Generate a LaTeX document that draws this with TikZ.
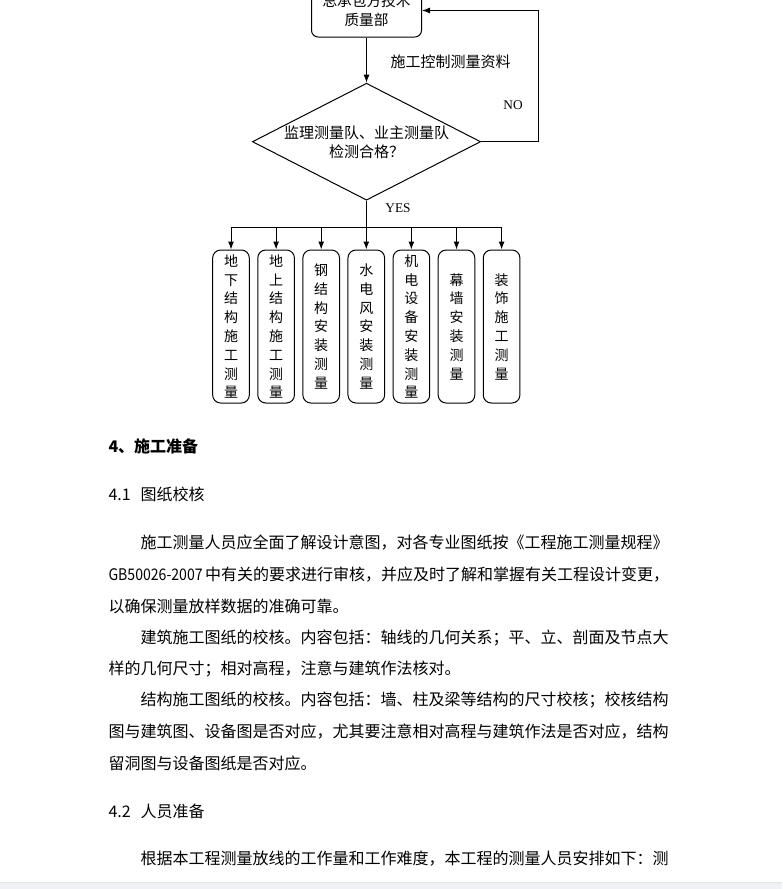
\documentclass[tikz,border=0pt]{standalone}
\usepackage{fontspec}
\setmainfont{Noto Sans CJK SC}
\newfontfamily\latinserif{Liberation Serif}
\usetikzlibrary{shapes.geometric,arrows.meta}
\XeTeXlinebreaklocale "zh"
\XeTeXlinebreakskip=0pt plus 1pt minus 1pt

\definecolor{bandgray}{RGB}{240,241,244}
\definecolor{bandline}{RGB}{226,228,232}

% one justified line of the body text
\newcommand{\indline}[1]{\makebox[391.5pt][s]{#1}}
\newcommand{\fulline}[1]{\makebox[415.5pt][s]{#1}}

\tikzset{
  flowtext/.style={inner sep=0pt, font=\fontsize{11.25}{14.25}\selectfont},
  topbox/.style={draw, rounded corners=5pt, minimum width=82.5pt, minimum height=39.75pt,
    inner sep=0pt, align=center, font=\fontsize{11}{14.25}\selectfont},
  checkbox/.style={draw, diamond, minimum width=171.2pt, minimum height=87.75pt, inner sep=0pt},
  leafbox/.style={draw, rounded corners=6pt, minimum width=27.5pt, minimum height=114.75pt,
    inner sep=0pt, align=center, font=\fontsize{10.5}{14.1}\selectfont},
  yesno/.style={inner sep=0pt, font=\latinserif\fontsize{10}{10}\selectfont},
  bodytext/.style={inner sep=0pt, anchor=west, font=\fontsize{12}{12}\selectfont}
}

\begin{document}
\begin{tikzpicture}[x=0.75pt,y=-0.75pt,line width=0.75pt,>={Latex[length=6pt,width=4.5pt]}]
  \useasboundingbox (0,0) rectangle (782,889);
  \clip (0,0) rectangle (782,889);

  % flow chart
  \node[topbox] (qa) at (366.5,10.5) {总承包方技术\\质量部};
  \node[checkbox] (chk) at (366.5,141.7) {};
  \node[flowtext, align=center] (chktext) at (366.5,142.5) {监理测量队、业主测量队\\检测合格？};
  \draw[->] (qa.south) -- (chk.north);
  \draw[->] (chk.east) -- ++(57,0) |- (qa.east);
  \node[flowtext, anchor=west] (data) at (390,62) {施工控制测量资料};
  \node[yesno] (no) at (513,105) {NO};
  \node[yesno] (yes) at (398,208) {YES};

  \coordinate (bus) at (366.5,227);
  \foreach \i/\t in {0/地\\下\\结\\构\\施\\工\\测\\量, 1/地\\上\\结\\构\\施\\工\\测\\量,
      2/钢\\结\\构\\安\\装\\测\\量, 3/水\\电\\风\\安\\装\\测\\量,
      4/机\\电\\设\\备\\安\\装\\测\\量, 5/幕\\墙\\安\\装\\测\\量, 6/装\\饰\\施\\工\\测\\量}{
    \node[leafbox] (b\i) at ({231+45.1*\i},326.5) {\t};
  }
  \draw[line width=1.3pt] (chk.south) -- (bus);
  \draw (b0.north |- bus) -- (b6.north |- bus);
  \foreach \i in {0,...,6}{ \draw[->] (b\i.north |- bus) -- (b\i.north); }

  % text below the chart
  \node[bodytext, font=\fontsize{12}{12}\selectfont\bfseries] (sec4) at (108,446) {4、施工准备};
  \node[bodytext] (sec41) at (108,494) {\makebox[24pt][l]{4.1}图纸校核};
  \node[bodytext] (p1a) at (140,543) {\indline{施工测量人员应全面了解设计意图，对各专业图纸按《工程施工测量规程》}};
  \node[bodytext] (p1b) at (108,575) {\fulline{\scalebox{0.88}[1]{GB50026-2007} 中有关的要求进行审核，并应及时了解和掌握有关工程设计变更，}};
  \node[bodytext] (p1c) at (108,606) {以确保测量放样数据的准确可靠。};
  \node[bodytext] (p2a) at (140,638) {\indline{建筑施工图纸的校核。内容包括：轴线的几何关系；平、立、剖面及节点大}};
  \node[bodytext] (p2b) at (108,669) {样的几何尺寸；相对高程，注意与建筑作法核对。};
  \node[bodytext] (p3a) at (140,700) {\indline{结构施工图纸的校核。内容包括：墙、柱及梁等结构的尺寸校核；校核结构}};
  \node[bodytext] (p3b) at (108,732) {\fulline{图与建筑图、设备图是否对应，尤其要注意相对高程与建筑作法是否对应，结构}};
  \node[bodytext] (p3c) at (108,763) {留洞图与设备图纸是否对应。};
  \node[bodytext] (sec42) at (108,811) {\makebox[24pt][l]{4.2}人员准备};
  \node[bodytext] (p4a) at (140,859) {\indline{根据本工程测量放线的工作量和工作难度，本工程的测量人员安排如下：测}};

  % grey band at the foot
  \fill[bandgray] (0,882) rectangle (782,889);
  \draw[bandline] (0,882) -- (782,882);
\end{tikzpicture}
\end{document}
